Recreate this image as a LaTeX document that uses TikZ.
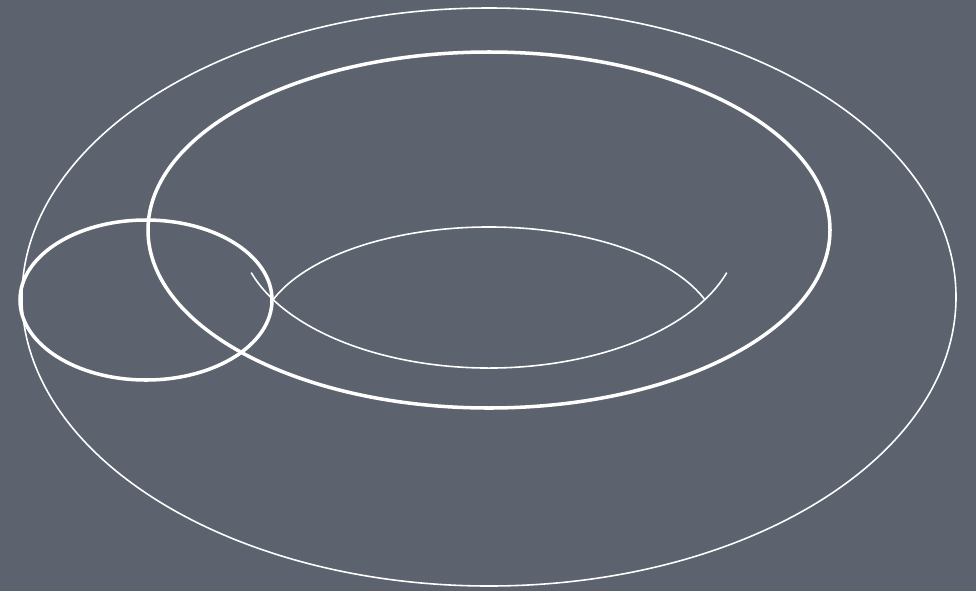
\documentclass[tikz,border=0pt]{standalone}
\usetikzlibrary{calc}

\definecolor{board}{RGB}{93,98,111}

\tikzset{
  chalkthick/.style={draw=white, line width=1.0pt},
  chalkthin/.style={draw=white, line width=0.45pt}
}

\begin{document}
\begin{tikzpicture}

  % Board
  \fill[board] (0,0) rectangle (9.76,5.91);

  % Centers
  \coordinate (Ctorus) at (4.89,2.94);
  \coordinate (Ctube) at (4.89,3.61);
  \coordinate (Cslice) at (1.46,2.91);
  \coordinate (Chole) at (4.89,2.53);

  % Outer outline
  \draw[chalkthin] (Ctorus) ellipse [x radius=4.67, y radius=2.89];

  % Core circle of the tube
  \draw[chalkthick] (Ctube) ellipse [x radius=3.41, y radius=1.78];

  % Cross section
  \draw[chalkthick] (Cslice) ellipse [x radius=1.26, y radius=0.80];

  % Hole, lower arc
  \draw[chalkthin] ($(Ctube)+(198:2.50 and 1.38)$) arc [start angle=198, end angle=342, x radius=2.50, y radius=1.38];

  % Hole, upper arc
  \draw[chalkthin] ($(Chole)+(20:2.30 and 1.11)$) arc [start angle=20, end angle=160, x radius=2.30, y radius=1.11];

\end{tikzpicture}
\end{document}
